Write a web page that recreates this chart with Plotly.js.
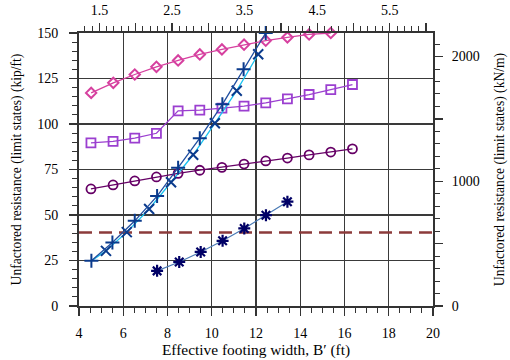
<!DOCTYPE html>
<html>
<head>
<meta charset="utf-8">
<script src="https://cdn.plot.ly/plotly-3.0.1.min.js"></script>
<style>html,body{margin:0;padding:0;background:#fff;}#chart{width:510px;height:360px;}</style>
</head>
<body>
<div id="chart"></div>
<script>
// Data (effective footing width in ft, resistance in kip/ft)
const diamondX = [4.55, 5.55, 6.52, 7.5, 8.48, 9.46, 10.46, 11.46, 12.44, 13.42, 14.4, 15.38];
const diamondY = [117.1, 122.6, 127.2, 131.4, 134.9, 138.2, 141.0, 143.6, 145.8, 147.6, 149.2, 150.0];
const squareX = [4.54, 5.54, 6.52, 7.5, 8.48, 9.46, 10.46, 11.46, 12.44, 13.42, 14.4, 15.38, 16.36];
const squareY = [89.6, 90.5, 92.2, 94.9, 107.2, 107.6, 108.7, 109.8, 111.6, 113.8, 116.2, 118.9, 121.7];
const circleX = [4.54, 5.54, 6.52, 7.5, 8.48, 9.46, 10.46, 11.46, 12.44, 13.42, 14.4, 15.38, 16.36];
const circleY = [64.3, 66.5, 68.7, 70.9, 72.9, 74.6, 76.2, 78.0, 79.7, 81.3, 83.0, 84.6, 86.3];
const plusX = [4.56, 5.51, 6.52, 7.53, 8.48, 9.46, 10.48, 11.44, 12.44];
const plusY = [24.8, 34.9, 46.8, 60.4, 76.0, 92.2, 110.8, 130.1, 150.0];
const crossX = [4.56, 5.22, 6.16, 7.17, 8.16, 9.16, 10.14, 11.13, 12.1];
const crossY = [24.8, 30.3, 40.6, 53.3, 68.0, 83.1, 100.4, 118.3, 138.3];
const starX = [7.53, 8.53, 9.5, 10.49, 11.47, 12.45, 13.42];
const starY = [19.3, 24.2, 29.7, 35.8, 42.6, 49.9, 57.3];
const limitX = [4, 20];
const limitY = [40.4, 40.4];
const topTickVals = [1.5, 2, 2.5, 3, 3.5, 4, 4.5, 5, 5.5, 6];
const topTickText = ['1.5', '', '2.5', '', '3.5', '', '4.5', '', '5.5', ''];
const rightTickVals = [0, 500, 1000, 1500, 2000];
const rightTickText = ['0', '', '1000', '', '2000'];

const FT_PER_M = 3.28084;
const KNM_PER_KIPFT = 14.5939;
const xMin = 4, xMax = 20, yMin = 0, yMax = 150;

const fam = 'Liberation Serif, Times New Roman, serif';
const font = {family: fam, size: 14, color: '#000'};
const yTitleFont = {family: fam, size: 13.6, color: '#000'};
const xTitleFont = {family: fam, size: 15.4, color: '#000'};

const traces = [
  {x: limitX, y: limitY, mode: 'lines', line: {color: '#8c3b3b', width: 2.5, dash: '13px,7px'}, hoverinfo: 'skip'},
  {x: starX, y: starY, mode: 'lines+markers', line: {color: '#4a7ab5', width: 1.2},
   marker: {symbol: 'asterisk-open', size: 10, color: '#000066', line: {color: '#000066', width: 2.2}}},
  {x: circleX, y: circleY, mode: 'lines+markers', line: {color: '#660066', width: 1.3},
   marker: {symbol: 'circle-open', size: 9, color: '#660066', line: {color: '#660066', width: 1.8}}},
  {x: squareX, y: squareY, mode: 'lines+markers', line: {color: '#9b3fd0', width: 1.3},
   marker: {symbol: 'square-open', size: 9, color: '#9b3fd0', line: {color: '#9b3fd0', width: 1.8}}},
  {x: diamondX, y: diamondY, mode: 'lines+markers', cliponaxis: false, line: {color: '#d6409f', width: 1.3},
   marker: {symbol: 'diamond-open', size: 8, color: '#d6409f', line: {color: '#d6409f', width: 2}}},
  {x: crossX, y: crossY, mode: 'lines', line: {color: '#19c3f0', width: 1.3}, hoverinfo: 'skip'},
  {x: crossX.slice(1), y: crossY.slice(1), mode: 'markers',
   marker: {symbol: 'x-thin-open', size: 10, color: '#0a3a8c', line: {color: '#0a3a8c', width: 2}}},
  {x: plusX, y: plusY, mode: 'lines+markers', cliponaxis: false, line: {color: '#1f4ea0', width: 1.3},
   marker: {symbol: 'cross-thin-open', size: 10, color: '#0a3a8c', line: {color: '#0a3a8c', width: 2}}},
  // helper trace binding the secondary (metric) axes
  {x: [xMin / FT_PER_M, xMax / FT_PER_M], y: [yMin * KNM_PER_KIPFT, yMax * KNM_PER_KIPFT], xaxis: 'x2', yaxis: 'y2',
   mode: 'markers', marker: {opacity: 0}, hoverinfo: 'skip'}
];

const layout = {
  width: 510, height: 360,
  margin: {l: 79, r: 77, t: 33, b: 54},
  paper_bgcolor: '#fff', plot_bgcolor: '#fff',
  showlegend: false,
  font: font,
  xaxis: {
    range: [xMin, xMax], dtick: 2, tick0: 4,
    showgrid: true, gridcolor: '#3a3a3a', gridwidth: 1.3,
    zeroline: false, showline: true, linecolor: '#333', linewidth: 2,
    ticks: 'outside', ticklen: 8, tickwidth: 1.3, tickcolor: '#333', ticklabelstandoff: 5,
    minor: {dtick: 0.5, ticks: 'outside', ticklen: 5, tickwidth: 1, tickcolor: '#333', showgrid: false},
    tickfont: font,
    title: {text: 'Effective footing width, B\u2032 (ft)', font: xTitleFont, standoff: 4}
  },
  yaxis: {
    range: [yMin, yMax], dtick: 25, tick0: 0,
    showgrid: true, gridcolor: '#3a3a3a', gridwidth: 1.3,
    zeroline: false, showline: true, linecolor: '#333', linewidth: 2,
    ticks: 'outside', ticklen: 8, tickwidth: 1.3, tickcolor: '#333', ticklabelstandoff: 8,
    minor: {dtick: 5, ticks: 'outside', ticklen: 5, tickwidth: 1, tickcolor: '#333', showgrid: false},
    tickfont: font,
    title: {text: 'Unfactored resistance (limit states) (kip/ft)', font: yTitleFont, standoff: 12}
  },
  xaxis2: {
    overlaying: 'x', side: 'top', anchor: 'y',
    range: [xMin / FT_PER_M, xMax / FT_PER_M],
    tickmode: 'array', tickvals: topTickVals, ticktext: topTickText,
    showgrid: false, zeroline: false, showline: true, linecolor: '#333', linewidth: 2,
    ticks: 'outside', ticklen: 8, tickwidth: 1.3, tickcolor: '#333', ticklabelstandoff: 2,
    minor: {dtick: 0.1, tick0: 0, ticks: 'outside', ticklen: 5, tickwidth: 1, tickcolor: '#333', showgrid: false},
    tickfont: font
  },
  yaxis2: {
    overlaying: 'y', side: 'right', anchor: 'x',
    range: [yMin * KNM_PER_KIPFT, yMax * KNM_PER_KIPFT],
    tickmode: 'array', tickvals: rightTickVals, ticktext: rightTickText,
    showgrid: false, zeroline: false, showline: true, linecolor: '#333', linewidth: 2,
    ticks: 'outside', ticklen: 8, tickwidth: 1.3, tickcolor: '#333', ticklabelstandoff: 6,
    minor: {dtick: 100, tick0: 0, ticks: 'outside', ticklen: 5, tickwidth: 1, tickcolor: '#333', showgrid: false},
    tickfont: font,
    title: {text: 'Unfactored resistance (limit states) (kN/m)', font: yTitleFont, standoff: 16}
  }
};

Plotly.newPlot('chart', traces, layout, {staticPlot: true, displayModeBar: false});
</script>
</body>
</html>
